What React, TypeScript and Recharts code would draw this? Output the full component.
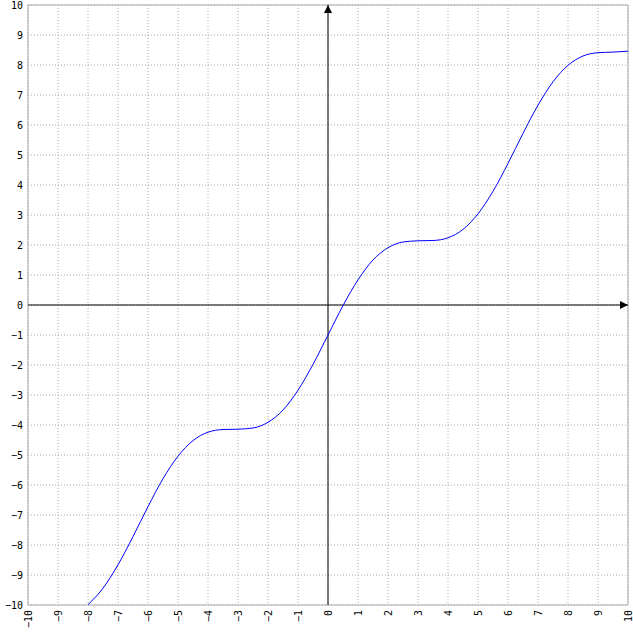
import React from 'react';
import { LineChart, Line, XAxis, YAxis, CartesianGrid, ReferenceLine, ReferenceArea, ReferenceDot } from 'recharts';

const xValues = [-8, -7.5, -7, -6.5, -6, -5.5, -5, -4.5, -4, -3.5, -3, -2.5, -2, -1.5, -1, -0.5, 0, 0.5, 1, 1.5, 2, 2.5, 3, 3.5, 4, 4.5, 5, 5.5, 6, 6.5, 7, 7.5, 8, 8.5, 9, 9.5, 10];
const yValues = [-9.99, -9.44, -8.66, -7.72, -6.72, -5.79, -5.04, -4.52, -4.24, -4.15, -4.14, -4.10, -3.91, -3.50, -2.84, -1.98, -1.0, -0.02, 0.84, 1.50, 1.91, 2.10, 2.14, 2.15, 2.24, 2.52, 3.04, 3.79, 4.72, 5.72, 6.66, 7.44, 7.99, 8.30, 8.41, 8.43, 8.46];
const tickValues = [-10, -9, -8, -7, -6, -5, -4, -3, -2, -1, 0, 1, 2, 3, 4, 5, 6, 7, 8, 9, 10];
const tickLabels = ['−10', '−9', '−8', '−7', '−6', '−5', '−4', '−3', '−2', '−1', '0', '1', '2', '3', '4', '5', '6', '7', '8', '9', '10'];

const data = xValues.map((x, i) => ({ x, y: yValues[i] }));

const FONT = 'DejaVu Sans Mono';
const FONT_SIZE = 10;

const labelFor = (v: number) => {
  const i = tickValues.indexOf(v);
  return i >= 0 ? tickLabels[i] : String(v);
};

const XTick = (props: any) => {
  const { x, y, payload } = props;
  return (
    <text
      x={x}
      y={y}
      transform={`rotate(-90, ${x}, ${y})`}
      textAnchor="end"
      dominantBaseline="central"
      fontFamily={FONT}
      fontSize={FONT_SIZE}
      fill="#000"
    >
      {labelFor(payload.value)}
    </text>
  );
};

const YTick = (props: any) => {
  const { x, y, payload } = props;
  return (
    <text x={x} y={y} textAnchor="end" dominantBaseline="central" fontFamily={FONT} fontSize={FONT_SIZE} fill="#000">
      {labelFor(payload.value)}
    </text>
  );
};

const RightArrow = (p: any) => (
  <polygon points={`${p.cx},${p.cy} ${p.cx - 8},${p.cy - 4} ${p.cx - 8},${p.cy + 4}`} fill="#000" />
);
const UpArrow = (p: any) => (
  <polygon points={`${p.cx},${p.cy} ${p.cx - 4},${p.cy + 8} ${p.cx + 4},${p.cy + 8}`} fill="#000" />
);

export default function App() {
  return (
    <div style={{ position: 'absolute', left: 0, top: 0, background: '#fff' }}>
      <LineChart width={633} height={633} data={data} margin={{ top: 5, right: 5, left: 0, bottom: 0 }}>
        <CartesianGrid stroke="#aaa" strokeDasharray="1 2" />
        <XAxis
          dataKey="x"
          type="number"
          domain={[-10, 10]}
          ticks={tickValues}
          interval={0}
          axisLine={false}
          tickLine={false}
          tickSize={0}
          tickMargin={5}
          height={28}
          tick={<XTick />}
          allowDataOverflow
        />
        <YAxis
          type="number"
          domain={[-10, 10]}
          ticks={tickValues}
          interval={0}
          axisLine={false}
          tickLine={false}
          tickSize={0}
          tickMargin={5}
          width={28}
          tick={<YTick />}
          allowDataOverflow
        />
        <ReferenceArea x1={-10} x2={10} y1={-10} y2={10} fill="none" fillOpacity={0} stroke="#aaa" strokeWidth={1} />
        <ReferenceLine y={0} stroke="#000" strokeWidth={1} />
        <ReferenceLine x={0} stroke="#000" strokeWidth={1} />
        <ReferenceDot x={10} y={0} r={4} shape={RightArrow} />
        <ReferenceDot x={0} y={10} r={4} shape={UpArrow} />
        <Line type="monotone" dataKey="y" stroke="#0000ff" strokeWidth={1} dot={false} isAnimationActive={false} />
      </LineChart>
    </div>
  );
}
